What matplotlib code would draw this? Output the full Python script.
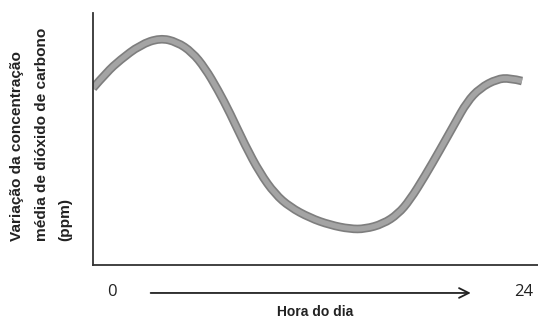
import matplotlib
matplotlib.use("Agg")
import matplotlib.pyplot as plt
from matplotlib.path import Path
from matplotlib.patches import PathPatch
import numpy as np

# Hour of day (x) and relative CO2 variation (y, arbitrary units 0-100)
hours = [-1.01, -0.18, 0.59, 1.78, 2.97, 3.98, 4.87, 5.64, 6.42, 7.13, 8.02, 8.91,
         9.80, 10.69, 11.88, 13.07, 14.26, 15.15, 16.22, 17.11, 17.82, 18.71,
         19.60, 20.50, 21.21, 21.98, 22.99, 23.76, 24.48]
co2 = [70.2, 76.6, 81.3, 87.3, 90.1, 88.5, 84.5, 78.2, 69.4, 60.3, 47.6, 36.5,
       28.2, 23.0, 18.7, 15.9, 14.3, 14.3, 16.3, 20.2, 25.8, 35.3,
       45.6, 56.3, 64.7, 70.2, 73.8, 74.2, 73.0]

x_labels = ["0", "24"]
x_label_pos = [0.1, 24.6]
xlabel = "Hora do dia"
ylabel_lines = ["Variação da concentração", "média de dióxido de carbono", "(ppm)"]

W, H = 538, 320
fig = plt.figure(figsize=(W / 100, H / 100), dpi=100)
ax = fig.add_axes([93 / W, (H - 265) / H, (W - 93) / W, (265 - 13) / H])
ax.set_xlim(-1.01, 25.43)
ax.set_ylim(0, 100)

# smooth curve: quadratic B-spline drawn by matplotlib's Path through the data points
pts = np.column_stack([hours, co2])
verts = [tuple(pts[0])]
codes = [Path.MOVETO]
for i in range(1, len(pts) - 1):
    mid = (pts[i] + pts[i + 1]) / 2 if i < len(pts) - 2 else pts[i + 1]
    verts += [tuple(pts[i]), tuple(mid)]
    codes += [Path.CURVE3, Path.CURVE3]
path = Path(verts, codes)
ax.add_patch(PathPatch(path, facecolor="none", edgecolor="#7e7e7e", lw=6.2,
                       capstyle="butt", joinstyle="round"))
ax.add_patch(PathPatch(path, facecolor="none", edgecolor="#a4a4a4", lw=3.8,
                       capstyle="butt", joinstyle="round"))

for s in ["top", "right"]:
    ax.spines[s].set_visible(False)
for s in ["left", "bottom"]:
    ax.spines[s].set_color("#333333")
    ax.spines[s].set_linewidth(1.3)
ax.set_xticks([])
ax.set_yticks([])

# x labels (0 and 24) below the axis
for lab, pos in zip(x_labels, x_label_pos):
    ax.text(pos, -10.6, lab, ha="center", va="center",
            fontsize=12, family="Open Sans", color="#222222", clip_on=False)

# arrow
ax.annotate("", xy=(21.6, -11.1), xytext=(2.25, -11.1), xycoords="data",
            arrowprops=dict(arrowstyle="->,head_length=0.7,head_width=0.35", lw=1.3,
                            color="#222222"), annotation_clip=False)

fig.text(315 / W, 1 - 312 / H, xlabel, ha="center", va="center", fontsize=10,
         fontweight="bold", family="Liberation Sans", color="#222222")

ypos = [17, 42, 65]
for t, xp in zip(ylabel_lines, ypos):
    fig.text(xp / W, 1 - 241 / H, t, rotation=90, ha="center", va="bottom",
             fontsize=11.1, fontweight="bold", family="Liberation Sans", color="#222222")

fig.savefig("out.png", dpi=100)
